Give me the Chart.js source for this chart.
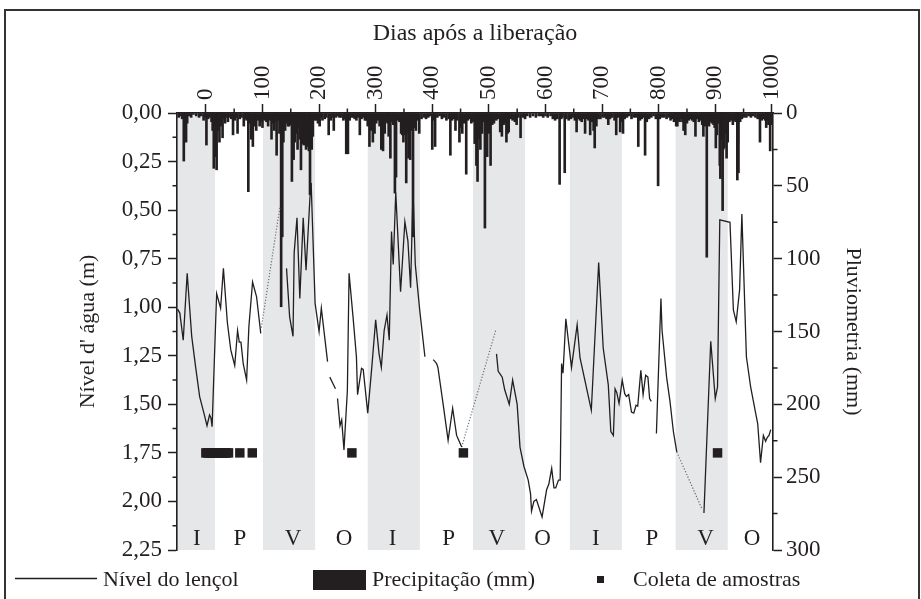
<!DOCTYPE html>
<html><head><meta charset="utf-8">
<script src="https://cdn.jsdelivr.net/npm/chart.js@4.4.1/dist/chart.umd.min.js"></script>
<style>html,body{margin:0;padding:0;background:#fff}</style>
</head><body>
<canvas id="c" width="921" height="599" style="width:921px;height:599px;display:block"></canvas>
<script>
const FONT = "'Liberation Serif', 'Times New Roman', serif";
const INK = '#231f20';

// ---- Water table level (m), null = gap in record ----
const levelDays = [-50,-46,-40,-33,-25,-18,-11,-3,2,6.5,9,11,19,26,31,38,44,51,56,59,62,66,72,76,82.5,89.5,97,
 120,
 142.5,148,154,156,161,166,172,177,184,186,193,200,204,215,
 217,
 219,224,229,
 231,
 232.6,237,240,244,250,253,260,266,268,275,278,286,293,300,306,310,315,320,324,328,331,335.5,344,351.6,357,361.7,366,370,372,376,378,387,
 395,
 401.6,405,407.6,410,419,428,436,443,446,452,
 480,
 513.5,516.5,520,523.6,528,536,542,550,555,562,569.5,573.6,575.4,579.5,584,594,602,606,611,615,618,623,626,628.5,631,636,646,656,661,681,694,702,711,715.5,720,723,726,730,735.6,740,743,747,752,756,760,763,768.5,772.5,777,781,784,787,
 792,
 796,804,806,814,820,826,832,
 856,
 880,892,900,904,908,926,932,937,943,947,955,962.5,971,975,980,985,989,992,995,998];
const levelValues = [1.01,1.03,1.17,0.825,1.15,1.31,1.46,1.55,1.61,1.555,1.57,1.615,0.93,1.005,0.80,1.08,1.22,1.30,1.12,1.18,1.18,1.29,1.375,1.10,0.87,0.945,1.135,
 null,
 0.80,1.05,1.15,0.72,0.54,0.955,0.54,0.81,0.43,0.36,0.98,1.125,1.005,1.28,
 null,
 1.36,1.39,1.42,
 null,
 1.47,1.61,1.58,1.735,1.43,0.825,1.05,1.255,1.45,1.315,1.32,1.545,1.315,1.065,1.24,1.31,1.12,1.04,1.17,0.61,0.78,0.41,0.92,0.56,0.66,0.90,0.40,0.78,0.84,0.96,1.02,1.255,
 null,
 1.27,1.28,1.29,1.31,1.495,1.685,1.52,1.66,1.68,1.72,
 null,
 1.24,1.33,1.345,1.36,1.425,1.50,1.375,1.50,1.72,1.82,1.89,1.96,2.05,2.00,1.99,2.08,1.94,1.91,1.83,1.93,1.93,1.89,1.89,1.29,1.34,1.06,1.31,1.09,1.26,1.53,0.77,1.21,1.40,1.64,1.66,1.42,1.44,1.495,1.375,1.445,1.46,1.45,1.54,1.545,1.505,1.51,1.325,1.45,1.35,1.36,1.47,1.485,
 null,
 1.65,0.955,1.12,1.36,1.485,1.64,1.745,
 null,
 2.06,1.175,1.47,1.41,0.55,0.563,1.014,1.075,0.91,0.52,1.255,1.41,1.54,1.60,1.80,1.66,1.69,1.67,1.66,1.63];

// ---- Interpolated (dotted) stretches ----
const interpDays   = [98,131, 300, 452,512, 700, 832,876];
const interpValues = [1.105,0.48, null, 1.72,1.12, null, 1.745,2.035];

// ---- Sampling dates (Coleta de amostras) ----
const sampleDays = [0,3,6,9,12,15,18,21,24,27,30,33,36,40,60,82,258,455,904];
const sampleLevel = [1.75,1.75,1.75,1.75,1.75,1.75,1.75,1.75,1.75,1.75,1.75,1.75,1.75,1.75,1.75,1.75,1.75,1.75,1.75];

// ---- Daily rainfall (mm) ----
const rainDays = [-48,-45,-42,-39,-37,-35,-33,-30,-26,-22,-17,-12,-8,-4,-1,1,4,7,10,12,14,17,19,21,22,24,26,28,29.5,32,34,37,39,42,45,48,51,53,56,60,63,67,70,72,75,77,80,83,86,89,92,95,98,100,102,104,107,110,113,116,119,121,123,125,127,130,133,135,137,140,143,145,147,150,152,155,157,160,162,164,166,168,171,173,175,177,180,182,184,187,189,192,195,198,201,203,206,210,213,217,221,224,226,230,233,236,239,243,246,248,251,254,257,260,263,266,269,272,275,278,281,283,286,289,292,295,298,301,304,307,310,313,316,319,321,323,326,329,331,334,336,339,342,345,347,349,352,354,356,358,361,363,366,368,371,374,377,381,385,389,393,396,400,403,405,409,413,417,421,425,429,432,435,438,441,444,448,451,453,456,460,463,466,469,472,475,478,480,482,485,488,490,493,495,497,500,503,506,509,513,516,520,523,526,529,531,533,535,539,542,546,549,552,556,560,564,568,573,578,583,588,592,596,600,604,609,613,617,621,625,628,630,634,637,641,645,649,652,655,658,661,664,667,670,673,676,679,682,685,687,690,693,697,701,705,708,711,714,718,722,725,728,732,735,737,740,744,748,752,756,760,764,767,770,773,776,779,783,787,791,795,799,802,806,810,814,818,821,824,827,829,831,833,835,837,840,842,844,847,850,853,856,859,862,865,868,871,874,877,879,882,885,887,889,892,894,897,899,901,903,905,908,909,911,913,914,916,918,920,922,925,928,931,934,936,939,940,941,944,947,951,955,959,963,967,971,975,979,982,985,988,990,992,994,997,999];
const rainMm = [3,2,4,33,12,20,7,2,3,1,2,3,2,5,3,22,4,3,6,12,38,30,39,8,12,20,9,5,17,4,7,3,6,3,4,15,5,3,14,4,3,9,4,5,54,7,18,23,9,12,5,9,6,10,4,5,6,9,5,18,7,12,6,29,5,14,133,85,20,12,7,9,9,8,47,32,20,14,25,10,18,39,21,22,14,25,23,26,56,25,16,5,5,7,9,3,5,4,3,15,5,3,12,3,2,3,3,5,4,28,28,5,3,3,4,5,3,15,4,3,5,5,9,23,12,20,14,7,5,9,25,26,14,6,7,16,31,6,8,55,44,5,6,14,15,20,15,48,14,31,32,12,85,10,12,5,14,4,3,4,3,2,25,5,23,3,2,4,3,5,4,29,5,4,12,5,20,10,14,7,42,5,4,7,6,21,36,47,18,25,14,6,79,10,30,14,36,8,7,5,4,13,16,8,7,20,14,13,4,5,6,8,3,17,3,4,2,3,2,3,2,2,3,2,3,2,4,5,4,49,4,3,41,4,5,4,3,5,13,4,5,6,4,14,4,5,15,6,12,24,9,4,4,3,3,4,8,4,3,5,15,3,13,6,14,4,3,2,4,3,3,23,5,4,3,29,6,4,3,2,4,50,4,3,3,4,3,5,4,6,5,9,9,5,6,4,6,12,15,7,5,4,5,6,16,4,6,5,8,16,9,99,8,9,6,7,8,10,24,15,7,36,45,18,67,25,24,14,31,20,6,5,8,5,6,46,20,41,6,4,3,3,2,3,2,3,4,20,5,4,5,10,5,8,26,8];

// ---- Seasons (I = inverno, P = primavera, V = verão, O = outono) ----
const bandStart = [-51,101,286,472,643,830];
const bandEnd   = [16,193,378,564,735,922];
const seasonLabels = ['I','P','V','O','I','P','V','O','I','P','V','O'];
const seasonLabelDays = [-16,60,154,244,330,429,514,595,689,788,883,965];

// ---- Axis ticks ----
const xTicks = [0,100,200,300,400,500,600,700,800,900,1000];
const xMinorTicks = [50,150,250,350,450,550,650,750,850,950];
const yMinorTicks = [0.125,0.375,0.625,0.875,1.125,1.375,1.625,1.875,2.125];
const y2MinorTicks = [25,75,125,175,225,275];

const AREA = {left:177, right:773, top:113, bottom:550};

const backdrop = {
  id:'backdrop',
  beforeDraw(chart){
    const {ctx, chartArea:a, scales:{x}} = chart;
    ctx.save();
    ctx.fillStyle = '#fff';
    ctx.fillRect(0,0,chart.width,chart.height);
    ctx.fillStyle = '#e6e7e9';
    for (let i=0;i<bandStart.length;i++){
      const x0 = Math.max(a.left, x.getPixelForValue(bandStart[i]));
      const x1 = Math.min(a.right, x.getPixelForValue(bandEnd[i]));
      ctx.fillRect(x0, a.top, x1-x0, a.bottom-a.top);
    }
    ctx.fillStyle = INK;
    ctx.font = '23px ' + FONT;
    ctx.textAlign = 'center';
    ctx.textBaseline = 'alphabetic';
    seasonLabels.forEach((s,i)=>{
      ctx.fillText(s, x.getPixelForValue(seasonLabelDays[i]), a.bottom - 5);
    });
    ctx.restore();
  }
};

const overlay = {
  id:'overlay',
  afterDraw(chart){
    const {ctx, chartArea:a, scales:{x,y,y2}} = chart;
    ctx.save();
    ctx.strokeStyle = INK;
    ctx.lineWidth = 1.5;
    ctx.beginPath();
    xMinorTicks.forEach(v=>{const px=x.getPixelForValue(v); ctx.moveTo(px,a.top); ctx.lineTo(px,a.top-4.5);});
    yMinorTicks.forEach(v=>{const py=y.getPixelForValue(v); ctx.moveTo(a.left,py); ctx.lineTo(a.left-4.5,py);});
    y2MinorTicks.forEach(v=>{const py=y2.getPixelForValue(v); ctx.moveTo(a.right,py); ctx.lineTo(a.right+4.5,py);});
    ctx.stroke();

    // legend
    ctx.fillStyle = INK;
    ctx.font = '22px ' + FONT;
    ctx.textAlign = 'left';
    ctx.textBaseline = 'alphabetic';
    ctx.lineWidth = 1.3;
    ctx.beginPath(); ctx.moveTo(15,578.5); ctx.lineTo(97,578.5); ctx.stroke();
    ctx.fillText('Nível do lençol', 103, 586);
    ctx.fillRect(313,570,53,20);
    ctx.fillText('Precipitação (mm)', 372, 586);
    ctx.fillRect(597,576,7,7);
    ctx.fillText('Coleta de amostras', 633, 586);

    // frame
    ctx.lineWidth = 2;
    ctx.strokeStyle = '#333';
    ctx.beginPath();
    ctx.moveTo(5,605); ctx.lineTo(5,10); ctx.lineTo(919,10); ctx.lineTo(919,605);
    ctx.stroke();
    ctx.restore();
  }
};

const levelData = levelDays.map((d,i)=>({x:d, y:levelValues[i]}));
const interpData = interpDays.map((d,i)=>({x:d, y:interpValues[i]}));
const sampleData = sampleDays.map((d,i)=>({x:d, y:sampleLevel[i]}));
const rainData = rainDays.map((d,i)=>({x:d, y:rainMm[i]}));

const tickFont = {family: FONT, size: 23};

new Chart(document.getElementById('c'), {
  type: 'line',
  data: {
    datasets: [
      {type:'bar', label:'Precipitação (mm)', data: rainData, yAxisID:'y2', xAxisID:'x',
       backgroundColor: INK, borderWidth:0, barThickness:2, order:3},
      {type:'line', label:'Nível do lençol', data: levelData, yAxisID:'y', xAxisID:'x',
       borderColor: INK, borderWidth:1.3, pointRadius:0, tension:0, spanGaps:false, fill:false, order:2},
      {type:'line', label:'interp', data: interpData, yAxisID:'y', xAxisID:'x',
       borderColor:'#6d6e70', borderWidth:1.2, borderDash:[1.2,1.8], pointRadius:0, tension:0, spanGaps:false, fill:false, order:2},
      {type:'scatter', label:'Coleta de amostras', data: sampleData, yAxisID:'y', xAxisID:'x',
       pointStyle:'rect', pointRadius:6.7, pointHoverRadius:6.7, backgroundColor: INK, borderWidth:0, order:1}
    ]
  },
  options: {
    responsive:false, animation:false, devicePixelRatio:1,
    layout:{padding:{left:0, right:0, top:0, bottom:599-AREA.bottom}},
    plugins:{legend:{display:false}, tooltip:{enabled:false}},
    scales:{
      x:{type:'linear', position:'top', min:-51, max:1002, offset:false, bounds:'data',
         afterBuildTicks(s){ s.ticks = xTicks.map(v=>({value:v})); },
         afterFit(s){ s.height = AREA.top; },
         ticks:{color:INK, font:tickFont, minRotation:90, maxRotation:90, autoSkip:false, padding:4, labelOffset:27.6, callback:v=>String(v)},
         grid:{drawOnChartArea:false, drawTicks:true, tickLength:9, tickWidth:1.5, tickColor:INK, offset:false},
         border:{display:true, color:INK, width:1.6},
         title:{display:true, text:'Dias após a liberação', color:INK, font:{family:FONT, size:24}, padding:{top:19, bottom:0}}
      },
      y:{type:'linear', position:'left', reverse:true, min:0, max:2.25,
         afterFit(s){ s.width = AREA.left; },
         ticks:{stepSize:0.25, color:INK, font:tickFont, padding:6, callback:v=>v.toFixed(2).replace('.',',')},
         grid:{drawOnChartArea:false, drawTicks:true, tickLength:9, tickWidth:1.5, tickColor:INK},
         border:{display:true, color:INK, width:1.6},
         title:{display:true, text:"Nível d' água (m)", color:INK, font:{family:FONT, size:22}, padding:{top:75, bottom:0}}
      },
      y2:{type:'linear', position:'right', reverse:true, min:0, max:300,
         afterFit(s){ s.width = 921 - AREA.right; },
         ticks:{stepSize:50, color:INK, font:tickFont, padding:4},
         grid:{drawOnChartArea:false, drawTicks:true, tickLength:9, tickWidth:1.5, tickColor:INK},
         border:{display:true, color:INK, width:1.6},
         title:{display:true, text:'Pluviometria (mm)', color:INK, font:{family:FONT, size:22}, padding:{top:55, bottom:0}}
      }
    }
  },
  plugins:[backdrop, overlay]
});
</script>
</body></html>
